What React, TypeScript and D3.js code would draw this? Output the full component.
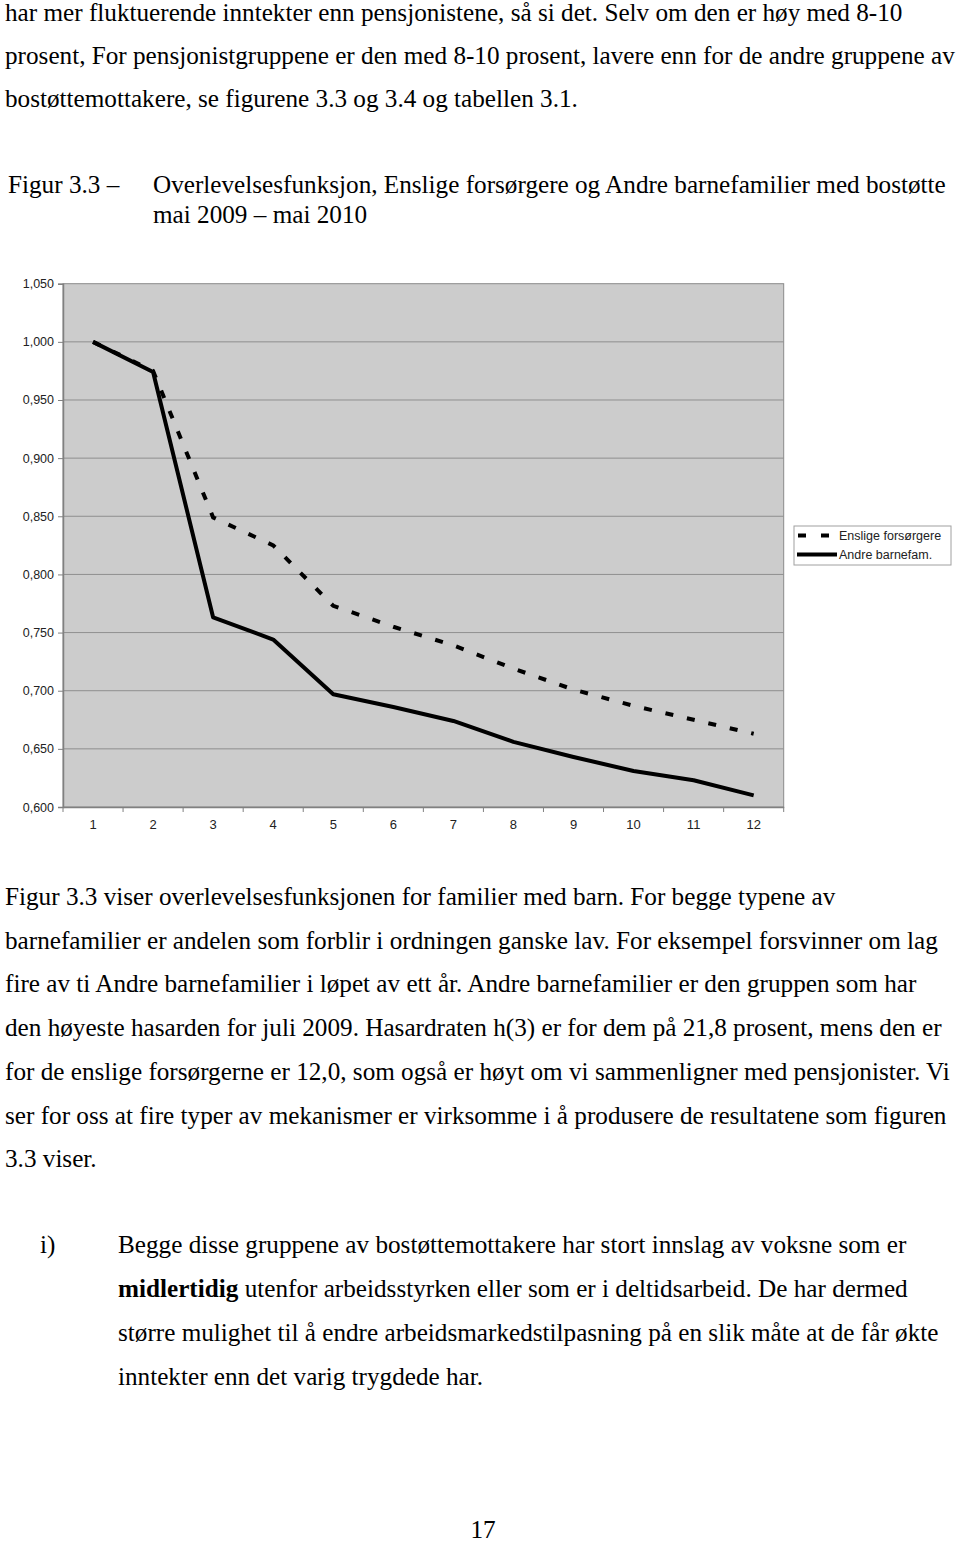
import React, { useEffect, useRef } from 'react';
import * as d3 from 'd3';

// months after start (x categories)
const months = ['1', '2', '3', '4', '5', '6', '7', '8', '9', '10', '11', '12'];
// Enslige forsørgere (dashed)
const enslige = [1.0, 0.975, 0.849, 0.825, 0.773, 0.755, 0.739, 0.719, 0.701, 0.687, 0.675, 0.663];
// Andre barnefam. (solid)
const andre = [1.0, 0.974, 0.763, 0.744, 0.697, 0.686, 0.674, 0.656, 0.643, 0.631, 0.623, 0.61];
const yTicks = [0.6, 0.65, 0.7, 0.75, 0.8, 0.85, 0.9, 0.95, 1.0, 1.05];

const introLines = [
  'har mer fluktuerende inntekter enn pensjonistene, så si det. Selv om den er høy med 8-10',
  'prosent, For pensjonistgruppene er den med 8-10 prosent, lavere enn for de andre gruppene av',
  'bostøttemottakere, se figurene 3.3 og 3.4 og tabellen 3.1.',
];
const bodyLines = [
  'Figur 3.3 viser overlevelsesfunksjonen for familier med barn. For begge typene av',
  'barnefamilier er andelen som forblir i ordningen ganske lav. For eksempel forsvinner om lag',
  'fire av ti Andre barnefamilier i løpet av ett år. Andre barnefamilier er den gruppen som har',
  'den høyeste hasarden for juli 2009. Hasardraten h(3) er for dem på 21,8 prosent, mens den er',
  'for de enslige forsørgerne er 12,0, som også er høyt om vi sammenligner med pensjonister. Vi',
  'ser for oss at fire typer av mekanismer er virksomme i å produsere de resultatene som figuren',
  '3.3 viser.',
];
const listLines = [
  'Begge disse gruppene av bostøttemottakere har stort innslag av voksne som er',
  ' utenfor arbeidsstyrken eller som er i deltidsarbeid. De har dermed',
  'større mulighet til å endre arbeidsmarkedstilpasning på en slik måte at de får økte',
  'inntekter enn det varig trygdede har.',
];

const serif = '"Liberation Serif", "Times New Roman", serif';
const sans = '"Liberation Sans", Arial, sans-serif';

const App = () => {
  const ref = useRef<SVGSVGElement>(null);

  useEffect(() => {
    const svg = d3.select(ref.current);
    svg.selectAll('*').remove();

    // page text
    const txt = svg.append('g').attr('font-family', serif).attr('font-size', 25.2).attr('fill', '#000');
    introLines.forEach((l, i) => {
      txt.append('text').attr('x', 5).attr('y', 21 + i * 43.2).text(l);
    });
    txt.append('text').attr('x', 8).attr('y', 193).text('Figur 3.3 –');
    txt.append('text').attr('x', 153).attr('y', 193)
      .text('Overlevelsesfunksjon, Enslige forsørgere og Andre barnefamilier med bostøtte');
    txt.append('text').attr('x', 153).attr('y', 223).text('mai 2009 – mai 2010');

    bodyLines.forEach((l, i) => {
      txt.append('text').attr('x', 5).attr('y', 905 + i * 43.7).text(l);
    });
    txt.append('text').attr('x', 40).attr('y', 1253).text('i)');
    listLines.forEach((l, i) => {
      const t = txt.append('text').attr('x', 118).attr('y', 1253 + i * 44.1);
      if (i === 1) {
        t.append('tspan').attr('font-weight', 'bold').text('midlertidig');
        t.append('tspan').text(l);
      } else {
        t.text(l);
      }
    });
    txt.append('text').attr('x', 483).attr('y', 1538).attr('text-anchor', 'middle').text('17');

    // chart
    const left = 63, right = 783.7, top = 283.7, bottom = 807;
    const x = d3.scaleBand().domain(months).range([left, right]).padding(0);
    const y = d3.scaleLinear().domain([0.6, 1.05]).range([bottom, top]);
    const fmt = (v: number) => d3.format('.3f')(v).replace('.', ',');

    const chart = svg.append('g');
    chart.append('rect')
      .attr('x', left).attr('y', top)
      .attr('width', right - left).attr('height', bottom - top)
      .attr('fill', '#cccccc').attr('stroke', '#8a8a8a').attr('stroke-width', 1);

    chart.selectAll('.grid').data(yTicks.slice(1, -1)).enter().append('line')
      .attr('class', 'grid')
      .attr('x1', left).attr('x2', right)
      .attr('y1', d => y(d)).attr('y2', d => y(d))
      .attr('stroke', '#8f8f8f').attr('stroke-width', 1);

    const yAxis = chart.append('g')
      .attr('transform', `translate(${left},0)`)
      .call(d3.axisLeft(y).tickValues(yTicks).tickFormat(d => fmt(d as number)).tickSize(5).tickPadding(4));
    yAxis.select('.domain').attr('stroke', '#808080').attr('stroke-width', 1.5);
    yAxis.selectAll('.tick line').attr('stroke', '#808080');
    yAxis.selectAll('text').attr('font-family', sans).attr('font-size', 12.5).attr('fill', '#222');

    const xAxis = chart.append('g')
      .attr('transform', `translate(0,${bottom})`)
      .call(d3.axisBottom(x).tickSize(0).tickPadding(13));
    xAxis.select('.domain').attr('stroke', '#808080').attr('stroke-width', 1.5);
    xAxis.selectAll('text').attr('font-family', sans).attr('font-size', 13).attr('fill', '#222');
    // tick marks at category boundaries
    const bounds = months.map(m => x(m) as number).concat([right]);
    chart.selectAll('.xtick').data(bounds).enter().append('line')
      .attr('class', 'xtick')
      .attr('x1', d => d).attr('x2', d => d)
      .attr('y1', bottom).attr('y2', bottom + 5)
      .attr('stroke', '#808080');

    const cx = (i: number) => (x(months[i]) as number) + x.bandwidth() / 2;
    const line = d3.line<number>().x((_, i) => cx(i)).y(d => y(d));

    chart.append('path').datum(andre)
      .attr('d', line).attr('fill', 'none')
      .attr('stroke', '#000').attr('stroke-width', 4).attr('stroke-linejoin', 'round');
    chart.append('path').datum(enslige)
      .attr('d', line).attr('fill', 'none')
      .attr('stroke', '#000').attr('stroke-width', 4).attr('stroke-dasharray', '8,14');

    // legend
    const lg = chart.append('g').attr('transform', 'translate(794,526)');
    lg.append('rect').attr('width', 157).attr('height', 39)
      .attr('fill', '#fff').attr('stroke', '#a0a0a0');
    lg.append('line').attr('x1', 4).attr('x2', 40).attr('y1', 9.5).attr('y2', 9.5)
      .attr('stroke', '#000').attr('stroke-width', 4).attr('stroke-dasharray', '8,15');
    lg.append('line').attr('x1', 3).attr('x2', 43).attr('y1', 28.5).attr('y2', 28.5)
      .attr('stroke', '#000').attr('stroke-width', 4);
    lg.append('text').attr('x', 45).attr('y', 14).attr('font-family', sans).attr('font-size', 12.5)
      .attr('fill', '#222').text('Enslige forsørgere');
    lg.append('text').attr('x', 45).attr('y', 33).attr('font-family', sans).attr('font-size', 12.5)
      .attr('fill', '#222').text('Andre barnefam.');
  }, []);

  return (
    <svg ref={ref} width={960} height={1543}
      style={{ position: 'absolute', left: 0, top: 0, background: '#fff' }} />
  );
};

export default App;
